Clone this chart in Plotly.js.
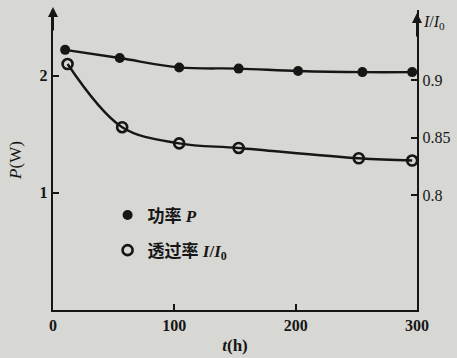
<!DOCTYPE html>
<html><head><meta charset="utf-8">
<script src="https://cdn.plot.ly/plotly-3.0.1.min.js"></script>
<style>html,body{margin:0;padding:0;background:#d7d7d3;}#chart{width:457px;height:358px;}</style>
</head><body><div id="chart"></div>
<script>
const tP = [10, 55, 104, 153, 202, 255, 296];
const powerP = [2.22, 2.15, 2.07, 2.06, 2.04, 2.03, 2.03];
const tT = [12, 57, 104, 153, 252, 296];
const transT = [0.914, 0.859, 0.845, 0.841, 0.832, 0.830];
const xTicks = [0, 100, 200, 300];
const yTicks = [1, 2];
const y2Ticks = [0.8, 0.85, 0.9];
const y2Labels = ['0.8', '0.85', '0.9'];

const serif = 'Liberation Serif, DejaVu Serif, Noto Sans CJK SC, serif';
const ink = '#161616';

const traces = [
  {x: tP, y: powerP, mode: 'lines', line: {shape: 'spline', smoothing: 1, color: ink, width: 2.4}, showlegend: false, hoverinfo: 'skip'},
  {x: tT, y: transT, yaxis: 'y2', mode: 'lines', line: {shape: 'spline', smoothing: 1, color: ink, width: 2.4}, showlegend: false, hoverinfo: 'skip'},
  {x: tP, y: powerP, mode: 'markers', name: '功率 <i>P</i>', legendgroup: 'a', marker: {symbol: 'circle', size: 10, color: ink}},
  {x: tT, y: transT, yaxis: 'y2', mode: 'markers', name: '透过率 <i>I</i>/<i>I</i><sub>0</sub>', legendgroup: 'b', marker: {symbol: 'circle-open', size: 10, color: ink, line: {width: 2.6, color: ink}}}
];

const layout = {
  width: 457, height: 358,
  paper_bgcolor: '#d7d7d3', plot_bgcolor: 'rgba(0,0,0,0)',
  margin: {l: 53, r: 40, t: 10, b: 48},
  font: {family: serif, color: ink, size: 15},
  showlegend: true,
  legend: {x: 0.15, y: 0.375, xanchor: 'left', yanchor: 'top', bgcolor: 'rgba(0,0,0,0)', traceorder: 'grouped',
    font: {family: serif, size: 17, color: ink, weight: 'bold'}, tracegroupgap: 10},
  xaxis: {range: [0, 300], tickvals: xTicks, ticktext: xTicks.map(String), showgrid: false, zeroline: false,
    showline: true, linecolor: ink, linewidth: 2.2, ticks: 'inside', ticklen: 6, tickwidth: 2, tickcolor: ink,
    tickfont: {family: serif, size: 16, color: ink, weight: 'bold'},
    title: {text: '<i>t</i>(h)', font: {family: serif, size: 17, color: ink, weight: 'bold'}, standoff: 6}},
  yaxis: {range: [0, 2.56], tickvals: yTicks, ticktext: yTicks.map(String), showgrid: false, zeroline: false,
    showline: true, linecolor: ink, linewidth: 2.2, ticks: 'inside', ticklen: 6, tickwidth: 2, tickcolor: ink,
    tickfont: {family: serif, size: 16, color: ink, weight: 'bold'},
    title: {text: '<i>P</i>(W)', font: {family: serif, size: 17, color: ink}, standoff: 14}},
  yaxis2: {range: [0.7, 0.961], overlaying: 'y', side: 'right', tickvals: y2Ticks, ticktext: y2Labels, showgrid: false, zeroline: false,
    showline: true, linecolor: ink, linewidth: 2.2, ticks: 'inside', ticklen: 6, tickwidth: 2, tickcolor: ink,
    tickfont: {family: serif, size: 16, color: ink}},
  annotations: [
    {xref: 'paper', yref: 'paper', x: 0, y: 1.01, ax: 0, ay: 25, showarrow: true, arrowhead: 2, arrowsize: 1, arrowwidth: 2, arrowcolor: ink, text: ''},
    {xref: 'paper', yref: 'paper', x: 1, y: 0.99, ax: 0, ay: 25, showarrow: true, arrowhead: 2, arrowsize: 1, arrowwidth: 2, arrowcolor: ink, text: ''},
    {xref: 'paper', yref: 'paper', x: 1.01, y: 0.96, xanchor: 'left', yanchor: 'middle', showarrow: false,
     text: '<i>I</i>/<i>I</i><sub>0</sub>', font: {family: serif, size: 16, color: ink}}
  ]
};

Plotly.newPlot('chart', traces, layout, {displayModeBar: false, staticPlot: true});
</script></body></html>
